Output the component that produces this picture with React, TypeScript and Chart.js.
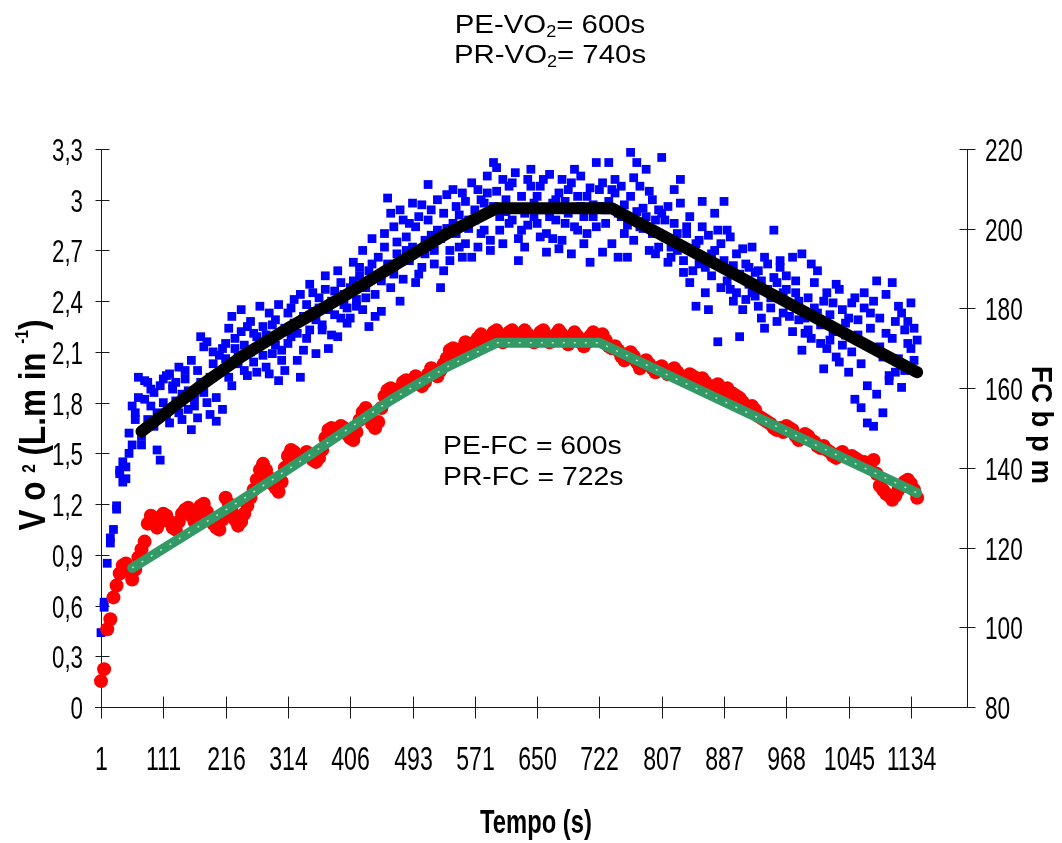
import React, { useEffect, useRef } from "react";
import { Chart, registerables } from "chart.js";

Chart.register(...registerables);

// ---- tick labels ----
const xTickLabels = ["1", "111", "216", "314", "406", "493", "571", "650", "722", "807", "887", "968", "1045", "1134"];
const yLeftTickValues = [0, 0.3, 0.6, 0.9, 1.2, 1.5, 1.8, 2.1, 2.4, 2.7, 3.0, 3.3];
const yLeftTickLabels = ["0", "0,3", "0,6", "0,9", "1,2", "1,5", "1,8", "2,1", "2,4", "2,7", "3", "3,3"];
const yRightTickValues = [80, 100, 120, 140, 160, 180, 200, 220];
const yRightTickLabels = ["80", "100", "120", "140", "160", "180", "200", "220"];

// samples per labelled interval, total samples on the axis
const SAMPLES_PER_LABEL = 20;
const SAMPLE_COUNT = 279;

// ---- VO2 (L/min) breath-by-breath, blue squares (first reading of each sample slot) ----
const vo2 = [
  0.44, 0.62, 0.85, 1.0, 1.05, 1.17, 1.4, 1.45, 1.35, 1.5, 1.55, 1.74, 1.95, 1.6, 1.82, 1.92, 1.78, 1.66, 1.52, 1.46,
  1.94, 1.72, 1.97, 1.88, 1.92, 1.74, 1.85, 1.99, 1.76, 1.64, 1.83, 1.71, 2.19, 1.86, 2.16, 1.73, 2.1, 1.83, 2.08, 1.76,
  2.15, 1.95, 2.31, 2.12, 2.03, 2.22, 1.99, 2.25, 2.1, 2.21, 1.98, 2.16, 2.25, 2.01, 2.33, 2.09, 2.29, 1.93, 2.11, 1.99,
  2.33, 2.19, 2.41, 2.21, 1.95, 2.11, 2.38, 2.23, 2.45, 2.29, 2.36, 2.23, 2.47, 2.12, 2.4, 2.32, 2.19, 2.51, 2.38, 2.27,
  2.3, 2.52, 2.41, 2.6, 2.35, 2.48, 2.25, 2.62, 2.44, 2.55, 2.34, 2.72, 3.01, 2.48, 2.84, 2.68, 2.4, 2.88, 2.78, 2.64,
  2.98, 2.51, 2.9, 2.6, 2.76, 3.09, 2.94, 2.7, 2.82, 2.48, 2.58, 3.03, 2.7, 2.86, 2.96, 2.72, 3.04, 2.74, 2.88, 2.66,
  2.94, 2.72, 3.0, 2.82, 3.04, 2.76, 3.22, 3.19, 2.82, 3.12, 2.93, 3.08, 2.88, 3.16, 2.64, 2.82, 2.72, 3.12, 3.08, 2.98,
  3.02, 2.78, 3.12, 2.69, 2.9, 2.77, 3.0, 2.71, 3.12, 2.86, 3.06, 2.68, 3.18, 2.82, 2.96, 2.74, 3.02, 2.63, 2.9, 3.22,
  3.06, 2.69, 2.94, 3.22, 3.06, 3.04, 2.66, 2.9, 2.8, 2.66, 3.28, 3.13, 3.22, 2.84, 2.95, 3.18, 2.7, 3.0, 2.68, 2.94,
  3.25, 2.88, 2.63, 2.72, 3.06, 2.8, 3.12, 2.57, 2.84, 2.51, 2.7, 2.37, 2.76, 2.99, 2.6, 2.35, 2.68, 2.92, 2.16, 2.74,
  2.99, 2.82, 2.47, 2.61, 2.45, 2.19, 2.71, 2.41, 2.6, 2.45, 2.57, 2.37, 2.52, 2.24, 2.62, 2.42, 2.82, 2.51, 2.64, 2.33,
  2.47, 2.31, 2.66, 2.45, 2.29, 2.11, 2.21, 2.23, 2.62, 2.51, 2.33, 2.15, 2.0, 2.45, 2.17, 2.39, 2.07, 2.47, 2.14, 2.27,
  1.98, 2.39, 1.82, 2.29, 1.77, 2.45, 1.68, 2.33, 1.66, 2.52, 2.13, 1.74, 2.21, 1.93, 2.51, 1.98, 2.37, 1.89, 2.23, 2.15,
  2.39, 2.05, 2.17,
];

// ---- VO2 (L/min), second reading of each sample slot ----
const vo2Second = [
  null, 0.59, null, 0.97, null, 1.19, 1.38, 1.33, 1.42, 1.62, 1.78, 1.7, 1.83, 1.55, 1.93, 1.7, 1.88, 1.86, 1.74, 1.9,
  1.8, 1.96, 1.68, 1.9, 1.81, 2.01, 1.7, 1.94, 1.87, 2.05, 1.78, 1.99, 1.92, 2.13, 1.8, 1.95, 2.03, 1.69, 1.98, 2.12,
  2.06, 2.24, 1.9, 2.18, 2.07, 2.35, 2.14, 1.96, 2.28, 2.04, 2.19, 2.37, 2.08, 2.2, 1.97, 2.26, 2.14, 2.38, 2.05, 2.24,
  2.15, 2.36, 2.27, 2.05, 2.44, 2.31, 2.18, 2.5, 2.34, 2.09, 2.42, 2.26, 2.55, 2.35, 2.2, 2.46, 2.58, 2.3, 2.44, 2.36,
  2.48, 2.63, 2.37, 2.55, 2.7, 2.42, 2.58, 2.77, 2.31, 2.66, 2.52, 2.8, 2.62, 2.92, 2.56, 2.75, 2.94, 2.53, 2.7, 2.86,
  2.72, 2.84, 2.56, 2.97, 2.68, 2.88, 2.79, 2.62, 3.0, 2.77, 2.92, 2.83, 2.64, 3.06, 2.8, 2.91, 2.66, 2.99, 2.83, 3.1,
  2.88, 3.06, 2.8, 2.98, 3.14, 2.7, 2.96, 3.05, 2.9, 2.74, 3.0, 2.86, 3.1, 2.95, 2.77, 3.02, 2.92, 2.85, 3.18, 2.9,
  2.86, 3.08, 2.94, 2.8, 3.15, 2.98, 2.88, 3.04, 2.76, 2.99, 2.92, 3.1, 2.84, 3.02, 3.14, 2.9, 2.8, 3.07, 2.97, 2.84,
  2.96, 3.1, 2.86, 2.99, 2.74, 3.12, 2.92, 3.08, 2.97, 2.85, 3.02, 2.76, 2.93, 3.08, 2.83, 2.9, 3.05, 2.8, 2.88, 2.72,
  2.92, 2.78, 2.96, 2.66, 2.86, 2.7, 2.98, 2.64, 2.8, 2.9, 2.58, 2.74, 2.62, 2.84, 2.45, 2.79, 2.55, 2.7, 2.82, 2.48,
  2.64, 2.52, 2.78, 2.4, 2.68, 2.56, 2.35, 2.62, 2.5, 2.72, 2.43, 2.58, 2.3, 2.66, 2.47, 2.36, 2.54, 2.28, 2.6, 2.45,
  2.55, 2.38, 2.22, 2.52, 2.4, 2.68, 2.3, 2.42, 2.18, 2.36, 2.58, 2.26, 2.4, 2.12, 2.32, 2.22, 2.5, 2.04, 2.35, 2.2,
  2.3, 2.1, 2.42, 2.2, 2.03, 2.36, 1.9, 2.24, 2.4, 1.85, 2.3, 2.07, 2.44, 1.96, 2.18, 2.28, 2.06, 2.33, 1.99, 2.28,
  2.12, 2.24, 1.98,
];

// ---- FC (bpm), red circles ----
const fc = [
  86.5, 89.5, 99.5, 102, 107.5, 110.5, 113.5, 115.5, 116, 114, 112, 114.5, 117.5, 119.5, 121.5, 126, 128, 127.5, 125, 126.5,
  128.5, 128, 126.5, 125, 124.5, 126.5, 128.5, 129.5, 130, 128, 126.5, 128.5, 130.5, 131, 129, 127.5, 126, 125, 124.5, 127,
  132.5, 131, 129, 127, 125.5, 126.5, 128.5, 130.5, 132.5, 134.5, 137, 139.5, 141, 139.5, 137.5, 136, 135, 134, 136.5, 140,
  143, 144.5, 144, 143, 142.5, 143, 144, 143, 142, 141.5, 142.5, 144.5, 147.5, 149.5, 150, 149, 149.5, 150.5, 150, 148.5,
  147.5, 147, 149, 152, 154, 155, 153, 151, 150, 151.5, 155, 158, 159.5, 160, 159, 158.5, 160, 161.5, 162, 160.5,
  161.5, 163, 162, 160.5, 161.5, 163.5, 165, 164, 163, 164.5, 166, 167.5, 169.5, 170, 169, 168.5, 170, 171.5, 171, 170.5,
  171.5, 172.5, 173.5, 172, 171, 172.5, 174, 174.5, 173, 171.5, 172.5, 174, 174.5, 173, 172, 173, 174.5, 173.5, 172, 171.5,
  172.5, 174, 174.5, 173, 171.5, 172, 173.5, 174.5, 173.5, 172, 171, 172.5, 174, 173, 171.5, 170.5, 171.5, 173, 174, 173,
  172.5, 173.5, 172, 170.5, 170, 170.5, 169.5, 168, 167, 168, 169, 168, 166.5, 165, 166, 167, 166, 165, 164, 165,
  165.5, 164.5, 163.5, 164, 165, 164, 163, 162, 162.5, 163.5, 163, 162.5, 162, 162.5, 161.5, 160.5, 160, 160.5, 161, 160,
  159.5, 160, 159, 158.5, 158, 157.5, 156.5, 155.5, 155, 155.5, 154.5, 153, 152.5, 152, 151.5, 151, 150, 149.5, 150, 149,
  150.5, 150, 149.5, 148, 147, 147.5, 148.5, 148, 147, 146.5, 145.5, 145, 145.5, 144.5, 144, 143, 142.5, 143.5, 144, 143,
  142.5, 143, 142.5, 142, 141, 141.5, 140.5, 141, 142, 138.5, 135.5, 134.5, 133.5, 133, 132, 133, 134.5, 135.5, 136.5, 137,
  136, 134.5, 132.5,
];

// ---- fitted VO2 model (black), vertices: sample index and value ----
const vo2FitIndex = [13, 32, 45, 60, 78, 95, 111, 127, 164, 262];
const vo2FitValue = [1.63, 1.9, 2.07, 2.24, 2.43, 2.62, 2.8, 2.95, 2.95, 1.98];

// ---- fitted FC model (green), vertices ----
const fcFitIndex = [10, 45, 66, 93, 111, 127, 160, 262];
const fcFitValue = [114.9, 131.9, 142.7, 157.0, 165.3, 171.4, 171.4, 133.7];

const titleLines = [
  ["PE-VO", "2", "= 600s"],
  ["PR-VO", "2", "= 740s"],
];
const fcNotes = ["PE-FC = 600s", "PR-FC = 722s"];

const FONT = '"Liberation Sans", Arial, sans-serif';

const categories = Array.from({ length: SAMPLE_COUNT }, (_, i) =>
  i % SAMPLES_PER_LABEL === 0 && i / SAMPLES_PER_LABEL < xTickLabels.length ? xTickLabels[i / SAMPLES_PER_LABEL] : ""
);

function fitSeries(idx: number[], val: number[]) {
  const a: (number | null)[] = Array(SAMPLE_COUNT).fill(null);
  idx.forEach((k, j) => (a[k] = val[j]));
  return a;
}

type Seg = { t: string; font: string; dy?: number };

function drawRich(
  ctx: CanvasRenderingContext2D,
  segs: Seg[],
  x: number,
  y: number,
  sx: number,
  rot: number,
  align: "center" | "left" | "right"
) {
  ctx.save();
  ctx.translate(x, y);
  if (rot) ctx.rotate(rot);
  ctx.scale(sx, 1);
  ctx.textBaseline = "alphabetic";
  ctx.textAlign = "left";
  ctx.fillStyle = "#000";
  let w = 0;
  for (const s of segs) {
    ctx.font = s.font;
    w += ctx.measureText(s.t).width;
  }
  let cx = align === "center" ? -w / 2 : align === "right" ? -w : 0;
  for (const s of segs) {
    ctx.font = s.font;
    ctx.fillText(s.t, cx, s.dy || 0);
    cx += ctx.measureText(s.t).width;
  }
  ctx.restore();
}

const decorPlugin = {
  id: "decor",
  beforeDatasetsDraw(chart: any) {
    const { ctx, chartArea: a, scales } = chart;
    const xs = scales.x;
    const yl = scales.y;
    const yr = scales.y1;
    ctx.save();
    ctx.strokeStyle = "#1a1a1a";
    ctx.lineWidth = 1;
    const ln = (x1: number, y1: number, x2: number, y2: number) => {
      ctx.beginPath();
      ctx.moveTo(x1, y1);
      ctx.lineTo(x2, y2);
      ctx.stroke();
    };
    const L = Math.round(a.left) + 0.5;
    const R = Math.round(a.right) + 0.5;
    const B = Math.round(a.bottom) + 0.5;
    ln(L, a.top, L, a.bottom);
    ln(R, a.top, R, a.bottom);
    ln(a.left - 6, B, a.right, B);

    const tickFont = `31px ${FONT}`;
    yLeftTickValues.forEach((v, i) => {
      const py = Math.round(yl.getPixelForValue(v)) + 0.5;
      ln(L - 6, py, L + 8, py);
      drawRich(ctx, [{ t: yLeftTickLabels[i], font: tickFont }], 83, py + 11, 0.72, 0, "right");
    });
    yRightTickValues.forEach((v, i) => {
      const py = Math.round(yr.getPixelForValue(v)) + 0.5;
      ln(R - 8, py, R + 8, py);
      drawRich(ctx, [{ t: yRightTickLabels[i], font: tickFont }], 985, py + 11, 0.73, 0, "left");
    });
    xTickLabels.forEach((lab, j) => {
      const px = Math.round(xs.getPixelForValue(j * SAMPLES_PER_LABEL)) + 0.5;
      ln(px, B - 11, px, B + 11);
      drawRich(ctx, [{ t: lab, font: `34px ${FONT}` }], px, 770, 0.68, 0, "center");
    });

    // titles
    titleLines.forEach((parts, i) => {
      drawRich(
        ctx,
        [
          { t: parts[0], font: `26px ${FONT}` },
          { t: parts[1], font: `16px ${FONT}`, dy: 4 },
          { t: parts[2], font: `26px ${FONT}` },
        ],
        550,
        33 + i * 30,
        1.13,
        0,
        "center"
      );
    });
    fcNotes.forEach((t, i) => {
      drawRich(ctx, [{ t, font: `26px ${FONT}` }], 443, 454 + i * 31, 1.09, 0, "left");
    });

    // axis titles
    const b38 = `bold 37px ${FONT}`;
    const b18 = `bold 18px ${FONT}`;
    drawRich(
      ctx,
      [
        { t: "V o ", font: b38 },
        { t: "2", font: b18, dy: -10 },
        { t: " (L.m in ", font: b38 },
        { t: "-1", font: b18, dy: -17 },
        { t: ")", font: b38 },
      ],
      45,
      425,
      0.85,
      -Math.PI / 2,
      "center"
    );
    drawRich(ctx, [{ t: "FC b p m", font: `bold 29px ${FONT}` }], 1032, 425, 0.95, Math.PI / 2, "center");
    drawRich(ctx, [{ t: "Tempo (s)", font: `bold 33px ${FONT}` }], 536, 833, 0.72, 0, "center");
    ctx.restore();
  },
};

export default function App() {
  const ref = useRef<HTMLCanvasElement | null>(null);
  useEffect(() => {
    if (!ref.current) return;
    const blue = {
      yAxisID: "y",
      showLine: false,
      pointStyle: "rect",
      pointRadius: 6.2,
      pointBorderWidth: 0,
      pointBackgroundColor: "#0000ff",
      pointBorderColor: "#0000ff",
      clip: false,
      order: 4,
    };
    const chart = new Chart(ref.current, {
      type: "line",
      data: {
        labels: categories,
        datasets: [
          {
            label: "FC fit marks",
            data: fitSeries(fcFitIndex, fcFitValue),
            yAxisID: "y1",
            borderColor: "#b9e9b9",
            borderWidth: 1.5,
            borderDash: [2, 9],
            pointRadius: 0,
            spanGaps: true,
            clip: false,
            order: 0,
          },
          {
            label: "FC fit",
            data: fitSeries(fcFitIndex, fcFitValue),
            yAxisID: "y1",
            borderColor: "#339966",
            borderWidth: 10,
            borderCapStyle: "round",
            borderJoinStyle: "round",
            pointRadius: 0,
            spanGaps: true,
            clip: false,
            order: 1,
          },
          {
            label: "VO2 fit",
            data: fitSeries(vo2FitIndex, vo2FitValue),
            yAxisID: "y",
            borderColor: "#000000",
            borderWidth: 12,
            borderCapStyle: "round",
            borderJoinStyle: "round",
            pointRadius: 0,
            spanGaps: true,
            clip: false,
            order: 2,
          },
          {
            label: "FC",
            data: fc,
            yAxisID: "y1",
            showLine: false,
            pointStyle: "circle",
            pointRadius: 7,
            pointBorderWidth: 0,
            pointBackgroundColor: "#ff0000",
            pointBorderColor: "#ff0000",
            clip: false,
            order: 3,
          },
          { label: "VO2", data: vo2, ...blue },
          { label: "VO2 (2)", data: vo2Second, ...blue },
        ],
      },
      options: {
        animation: false,
        responsive: true,
        maintainAspectRatio: false,
        events: [],
        layout: { padding: { top: 149, left: 0, right: 0, bottom: 0 } },
        plugins: { legend: { display: false }, tooltip: { enabled: false }, title: { display: false } },
        scales: {
          x: {
            type: "category",
            offset: false,
            grid: { display: false },
            border: { display: false },
            ticks: { display: false, autoSkip: false },
            afterFit: (s: any) => {
              s.height = 136;
            },
          },
          y: {
            position: "left",
            min: 0,
            max: 3.3,
            grid: { display: false },
            border: { display: false },
            ticks: { display: false },
            afterBuildTicks: (s: any) => {
              s.ticks = yLeftTickValues.map((v) => ({ value: v }));
            },
            afterFit: (s: any) => {
              s.width = 101;
            },
          },
          y1: {
            position: "right",
            min: 80,
            max: 220,
            grid: { display: false },
            border: { display: false },
            ticks: { display: false },
            afterBuildTicks: (s: any) => {
              s.ticks = yRightTickValues.map((v) => ({ value: v }));
            },
            afterFit: (s: any) => {
              s.width = 95;
            },
          },
        },
      } as any,
      plugins: [decorPlugin],
    });
    return () => chart.destroy();
  }, []);
  return (
    <div style={{ position: "absolute", left: 0, top: 0, width: 1062, height: 843, background: "#fff" }}>
      <canvas ref={ref} />
    </div>
  );
}
